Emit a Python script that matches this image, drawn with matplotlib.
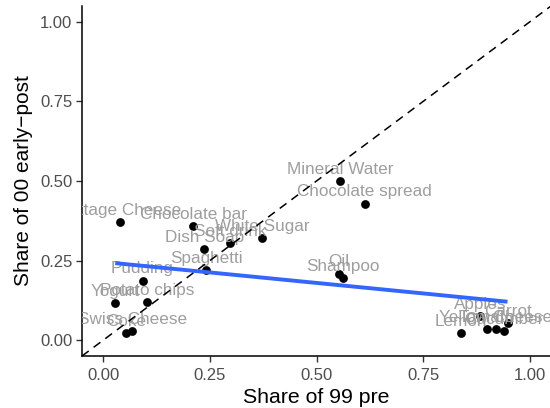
import numpy as np
import matplotlib
matplotlib.use("Agg")
import matplotlib.pyplot as plt

plt.rcParams["font.family"] = ["Liberation Sans", "DejaVu Sans"]

# product shares
products = ["Lemon", "Tomato", "Yellow Cheese", "Cucumber", "Carrot", "Apples",
            "Cottage Cheese", "Yogurt", "Potato chips", "Pudding", "Swiss Cheese", "Coke",
            "Chocolate bar", "Dish Soap", "Soft drink", "White Sugar", "Spaghetti",
            "Mineral Water", "Chocolate spread", "Oil", "Shampoo"]
share_99_pre = [0.838, 0.899, 0.920, 0.939, 0.948, 0.883,
                0.038, 0.028, 0.103, 0.092, 0.068, 0.054,
                0.211, 0.237, 0.298, 0.373, 0.242,
                0.556, 0.613, 0.552, 0.561]
share_00_post = [0.022, 0.035, 0.035, 0.028, 0.053, 0.075,
                 0.371, 0.116, 0.119, 0.186, 0.028, 0.022,
                 0.358, 0.286, 0.305, 0.321, 0.220,
                 0.500, 0.428, 0.208, 0.195]

ticks = [0.0, 0.25, 0.5, 0.75, 1.0]
tick_labels = ["0.00", "0.25", "0.50", "0.75", "1.00"]

x = np.array(share_99_pre)
y = np.array(share_00_post)

fig = plt.figure(figsize=(5.5, 4.08), dpi=100)
ax = fig.add_axes([82 / 550, 1 - 356 / 408, 469 / 550, 350 / 408])
ax.set_xlim(-0.05, 1.05)
ax.set_ylim(-0.05, 1.05)

ax.scatter(x, y, s=40, color="black", linewidths=0, zorder=2)

for name, xi, yi in zip(products, x, y):
    ax.annotate(name, (xi, yi), xytext=(0, 8.6), textcoords="offset points",
                ha="center", va="center", fontsize=12.3, color="#9e9e9e",
                zorder=3, annotation_clip=False, clip_on=True)

# linear fit, like geom_smooth(method = "lm")
slope, intercept = np.polyfit(x, y, 1)
xs = np.array([x.min(), x.max()])
ax.plot(xs, intercept + slope * xs, color="#3366FF", lw=2.8,
        solid_capstyle="butt", zorder=4)

ax.plot([-0.05, 1.05], [-0.05, 1.05], color="black", lw=1.1,
        dashes=(5.5, 4), zorder=5)

for side in ["top", "right"]:
    ax.spines[side].set_visible(False)
for side in ["left", "bottom"]:
    ax.spines[side].set_linewidth(1.1)

ax.set_xticks(ticks)
ax.set_xticklabels(tick_labels)
ax.set_yticks(ticks)
ax.set_yticklabels(tick_labels)
ax.tick_params(length=4, width=1.0, color="#333333", labelsize=12,
               labelcolor="#4d4d4d")
ax.tick_params(axis="x", pad=5)
ax.tick_params(axis="y", pad=3)

ax.set_xlabel("Share of 99 pre", fontsize=15.3, labelpad=3)
ax.set_ylabel("Share of 00 early\u2212post", fontsize=15.0, labelpad=5)

fig.savefig("out.png", dpi=100)
